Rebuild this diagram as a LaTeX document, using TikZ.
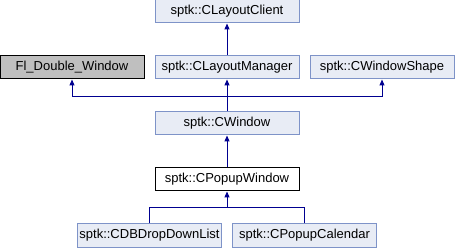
\documentclass[tikz,border=0pt]{standalone}
\usepackage{fontspec}
\setmainfont{Liberation Sans}
\usetikzlibrary{arrows.meta}

\definecolor{boxfill}{HTML}{E8ECF5}
\definecolor{boxline}{HTML}{7E93C8}
\definecolor{edgeblue}{HTML}{000090}

\tikzset{
	classbox/.style={draw=boxline, fill=boxfill, line width=1pt, rectangle,
		minimum width=144pt, minimum height=23pt, inner sep=0pt, font=\fontsize{13}{15}\selectfont},
	extbox/.style={classbox, draw=black, fill=black!25},
	thisbox/.style={classbox, draw=black, fill=white},
	inherit/.style={draw=edgeblue, line width=1pt, -{Triangle[length=6pt,width=5pt]}}
}

\begin{document}
\begin{tikzpicture}[x=1pt, y=-1pt]
	\useasboundingbox (0,0) rectangle (455,248);

	\node [name=client, classbox] at (227,11.5) {sptk::CLayoutClient};

	\node [name=fldw, extbox] at (72,67.5) {Fl\_Double\_Window};
	\node [name=manager, classbox] at (227,67.5) {sptk::CLayoutManager};
	\node [name=shape, classbox] at (382,67.5) {sptk::CWindowShape};

	\node [name=cwindow, classbox] at (227,123.5) {sptk::CWindow};
	\node [name=popup, thisbox] at (227,179.5) {sptk::CPopupWindow};

	\node [name=dbdrop, classbox] at (149.5,235.5) {sptk::CDBDropDownList};
	\node [name=calendar, classbox] at (304.5,235.5) {sptk::CPopupCalendar};

	\coordinate (bus1) at (227,97);
	\coordinate (bus2) at (227,208);

	\draw [inherit] (manager.north) -- (client.south);

	\draw [inherit] (cwindow.north) -- (manager.south);
	\draw [inherit] (bus1) -| (fldw.south);
	\draw [inherit] (bus1) -| (shape.south);

	\draw [inherit] (popup.north) -- (cwindow.south);

	\draw [inherit] (dbdrop.north) |- (bus2) -- (popup.south);
	\draw [draw=edgeblue, line width=1pt] (calendar.north) |- (bus2);

\end{tikzpicture}
\end{document}
